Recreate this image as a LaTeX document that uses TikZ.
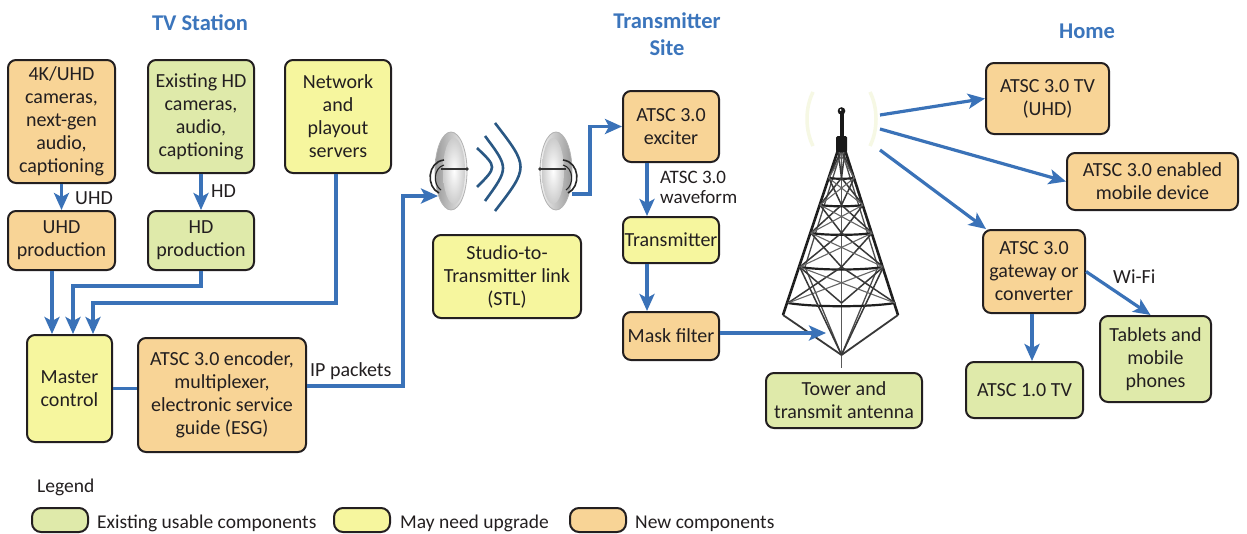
\documentclass[tikz,border=0pt]{standalone}
\usepackage{fontspec}
\setmainfont{Carlito}
\usetikzlibrary{arrows.meta}

\definecolor{boxorange}{RGB}{248,212,150}
\definecolor{boxgreen}{RGB}{223,234,170}
\definecolor{boxyellow}{RGB}{246,246,158}
\definecolor{lineblue}{RGB}{58,114,184}
\definecolor{titleblue}{RGB}{59,117,188}
\definecolor{ink}{RGB}{35,31,32}
\definecolor{wavecol}{RGB}{42,88,132}
\definecolor{glowcol}{RGB}{246,248,228}

\begin{document}
\begin{tikzpicture}[x=1pt,y=-1pt,
  box/.style={draw=ink, line width=2pt, rounded corners=8pt, align=center,
    inner sep=0pt, text=ink, font=\fontsize{20}{23}\selectfont},
  newbox/.style={box, fill=boxorange},
  oldbox/.style={box, fill=boxgreen},
  upbox/.style={box, fill=boxyellow},
  wh/.style 2 args={minimum width=#1pt, minimum height=#2pt},
  conn/.style={draw=lineblue, line width=3.2pt},
  arr/.style={conn, -{Stealth[length=17pt,width=15pt,inset=4pt]}},
  lbl/.style={text=ink, inner sep=0pt, font=\fontsize{20}{23}\selectfont},
  smalllbl/.style={text=ink, inner sep=0pt, align=left, font=\fontsize{19}{20}\selectfont},
  heading/.style={text=titleblue, inner sep=0pt, align=center,
    font=\bfseries\fontsize{22.5}{27}\selectfont},
  legtext/.style={text=ink, inner sep=0pt, font=\fontsize{19.5}{22}\selectfont},
  swatch/.style={draw=ink, line width=2pt, rounded corners=9pt, minimum width=56pt,
    minimum height=24pt, inner sep=0pt},
  leg/.style={draw=black!88, line width=2.6pt},
  brace/.style={draw=black!78, line width=1.5pt},
  glow/.style={draw=glowcol, line width=3.5pt}
]
\useasboundingbox[fill=white] (0,0) rectangle (1247,533);

% ---------- section headings ----------
\node[heading, anchor=base] (hStation) at (200,30) {TV Station};
\node[heading, anchor=base] (hSite1) at (667,28) {Transmitter};
\node[heading, anchor=base] (hSite2) at (667,55) {Site};
\node[heading, anchor=base] (hHome) at (1087,38) {Home};

% ---------- TV station ----------
\node[newbox, wh={107}{123}] (cam4k) at (61.5,121.5) {4K/UHD\\cameras,\\next-gen\\audio,\\captioning};
\node[oldbox, wh={106}{113}] (camhd) at (201,116.5) {Existing HD\\cameras,\\audio,\\captioning};
\node[upbox, wh={106}{113}] (servers) at (338,116.5) {Network\\and\\playout\\servers};
\node[newbox, wh={107}{59}] (uhdprod) at (61.5,240.5) {UHD\\production};
\node[oldbox, wh={106}{59}] (hdprod) at (201,240.5) {HD\\production};
\node[upbox, wh={85}{107}] (master) at (69.5,388.5) {Master\\control};
\node[newbox, wh={168}{114}] (encoder) at (222,395) {ATSC 3.0 encoder,\\multiplexer,\\electronic service\\guide (ESG)};

% ---------- studio-to-transmitter link ----------
\node[upbox, wh={148}{83}] (stl) at (507,276.5) {Studio-to-\\Transmitter link\\(STL)};

% ---------- transmitter site ----------
\node[newbox, wh={96}{71}] (exciter) at (671,126.5) {ATSC 3.0\\exciter};
\node[upbox, wh={96}{46}] (transmitter) at (671,240) {Transmitter};
\node[newbox, wh={96}{48}] (mask) at (671,336) {Mask filter};
\node[oldbox, wh={156}{55}] (towerbox) at (844,400.5) {Tower and\\transmit antenna};

% ---------- home ----------
\node[newbox, wh={123}{71}] (tvuhd) at (1047.5,98.5) {ATSC 3.0 TV\\(UHD)};
\node[newbox, wh={171}{57}] (mobile) at (1152.5,181.5) {ATSC 3.0 enabled\\mobile device};
\node[newbox, wh={102}{83}] (gateway) at (1034,271.5) {ATSC 3.0\\gateway or\\converter};
\node[oldbox, wh={117}{56}] (atsc1) at (1024.5,390) {ATSC 1.0 TV};
\node[oldbox, wh={111}{86}] (tablets) at (1155.5,359) {Tablets and\\mobile\\phones};

% ---------- microwave dishes ----------
% sending dish, facing right
\shade[left color=gray!80, right color=gray!10] (451,171) ellipse [x radius=16pt, y radius=39pt];
\shade[inner color=white, outer color=gray!40] (454,171) ellipse [x radius=11pt, y radius=33pt];
\draw[gray!60, line width=0.8pt] (451,171) ellipse [x radius=16pt, y radius=39pt];
\draw[gray!40!black, line width=1.3pt] (441,169) -- (467,169);
\fill[gray!40!black] (467,169) circle (1.8pt);
\draw[black!85, line width=1.6pt] (444,160) .. controls (427,162) and (426,187) .. (439,193);
\draw[black!85, line width=1.1pt] (444,165) .. controls (433,168) and (433,185) .. (441,190);
% receiving dish, facing left
\shade[left color=gray!10, right color=gray!80] (556,171) ellipse [x radius=16pt, y radius=39pt];
\shade[inner color=white, outer color=gray!40] (553,171) ellipse [x radius=11pt, y radius=33pt];
\draw[gray!60, line width=0.8pt] (556,171) ellipse [x radius=16pt, y radius=39pt];
\draw[gray!40!black, line width=1.3pt] (566,169) -- (540,169);
\fill[gray!40!black] (540,169) circle (1.8pt);
\draw[black!85, line width=1.6pt] (563,160) .. controls (580,162) and (581,187) .. (568,193);
\draw[black!85, line width=1.1pt] (563,165) .. controls (574,168) and (574,185) .. (566,190);
% radio waves
\draw[wavecol, line width=2.6pt] (477,148) .. controls (497,167) .. (477,187);
\draw[wavecol, line width=2.6pt] (485,136) .. controls (509,168) .. (485,201);
\draw[wavecol, line width=2.6pt] (495,123) .. controls (529,167) .. (495,211);
\coordinate (dishIn) at (438,196);
\coordinate (dishOut) at (572,194);

% ---------- transmission tower ----------
% faint glow round the antenna tip
\draw[glow] (813,92) .. controls (805,108) and (805,130) .. (813,146);
\draw[glow] (870,92) .. controls (878,108) and (878,130) .. (870,146);
% centre pole and outer legs
\draw[gray!70!black, line width=1.8pt] (841.5,150) -- (841.5,368);
\draw[leg] (838,150) -- (783,315);
\draw[leg] (845,150) -- (898,315);
% inner legs seen in perspective
\draw[brace, draw=black!70, line width=1.3pt] (841.5,150) -- (805,267) -- (841.5,355);
\draw[brace, draw=black!70, line width=1.3pt] (841.5,150) -- (878,267) -- (841.5,355);
% horizontal bands
\foreach \y/\h in {178/12.7,205/21.5,233/30.7,267/41.8,303/53.6}
  \draw[leg, line width=2.2pt] ({841.5-\h},\y) .. controls ({841.5-\h/2},{\y+\h*0.08}) and ({841.5+\h/2},{\y+\h*0.08}) .. ({841.5+\h},\y);
% cross bracing between bands
\foreach \ya/\ha/\yb/\hb in {150/3.5/178/12.7,178/12.7/205/21.5,205/21.5/233/30.7,233/30.7/267/41.8,267/41.8/303/53.6} {
  \draw[brace] ({841.5-\ha},\ya) -- (841.5,\yb);
  \draw[brace] (841.5,\ya) -- ({841.5-\hb},\yb);
  \draw[brace] ({841.5+\ha},\ya) -- (841.5,\yb);
  \draw[brace] (841.5,\ya) -- ({841.5+\hb},\yb);
  \draw[brace, draw=black!60, line width=1.1pt] ({841.5-\ha},\ya) -- ({841.5+\hb},\yb);
  \draw[brace, draw=black!60, line width=1.1pt] ({841.5+\ha},\ya) -- ({841.5-\hb},\yb);
}
% lower pyramid converging on the base of the pole
\draw[brace, line width=1.8pt] (783,315) -- (841.5,355);
\draw[brace, line width=1.8pt] (898,315) -- (841.5,355);
\draw[brace] (799.7,267) -- (841.5,355);
\draw[brace] (883.3,267) -- (841.5,355);
% antenna mast on top
\fill[black!90, rounded corners=1.5pt] (836,136) rectangle (847,152);
\fill[black!90] (839.5,113) rectangle (843.5,137);
\fill[black!90] (841.5,111) circle (3.8pt);
\fill[white] (840.6,110) circle (1pt);
\coordinate (towerIn) at (826,333);
\coordinate (beam1) at (880,115);
\coordinate (beam2) at (880,129);
\coordinate (beam3) at (880,150);

% ---------- connectors ----------
\draw[arr] (cam4k.south) -- (uhdprod.north);
\node[lbl, anchor=base west] (lblUHD) at (75,204) {UHD};
\draw[arr] (camhd.south) -- (hdprod.north);
\node[lbl, anchor=base west] (lblHD) at (211,197) {HD};
\draw[arr] ([xshift=-9.5pt]uhdprod.south) -- ([xshift=-9.5pt]uhdprod.south |- master.north);
\draw[arr] (hdprod.south) -- ++(0,15) -| ([xshift=3.5pt]master.north);
\draw[arr] ([xshift=-2pt]servers.south) -- ++(0,129) -| ([xshift=23.5pt]master.north);
\draw[conn] (master.east) -- (master.east -| encoder.west);
\draw[arr] ([yshift=9pt]encoder.east) -- ++(96,0) |- (dishIn);
\node[lbl, anchor=base west] (lblIP) at (310,376) {IP packets};
\draw[arr] (dishOut) -- ++(18,0) |- (exciter.west);
\draw[arr] ([xshift=-24pt]exciter.south) -- ([xshift=-24pt]transmitter.north);
\node[smalllbl, anchor=north west] (lblWave) at (660,171) {ATSC 3.0\\waveform};
\draw[arr] ([xshift=-24pt]transmitter.south) -- ([xshift=-24pt]mask.north);
\draw[arr] ([yshift=3pt]mask.east) -- (towerIn);
\draw[arr] (beam1) -- (tvuhd.west);
\draw[arr] (beam2) -- (mobile.west);
\draw[arr] (beam3) -- ([xshift=4pt]gateway.north west);
\draw[arr] ([xshift=-2pt]gateway.south) -- ([xshift=-2pt]gateway.south |- atsc1.north);
\draw[arr] (gateway.east) -- ([xshift=-5pt]tablets.north);
\node[lbl, anchor=base west] (lblWifi) at (1113,283) {Wi-Fi};

% ---------- legend ----------
\node[legtext, anchor=base west] (legTitle) at (37,492) {Legend};
\node[swatch, fill=boxgreen] (swOld) at (60,520) {};
\node[legtext, anchor=base west] (txOld) at (97,528) {Existing usable components};
\node[swatch, fill=boxyellow] (swUp) at (362,520) {};
\node[legtext, anchor=base west] (txUp) at (400,528) {May need upgrade};
\node[swatch, fill=boxorange] (swNew) at (598,520) {};
\node[legtext, anchor=base west] (txNew) at (635,528) {New components};
\end{tikzpicture}
\end{document}
